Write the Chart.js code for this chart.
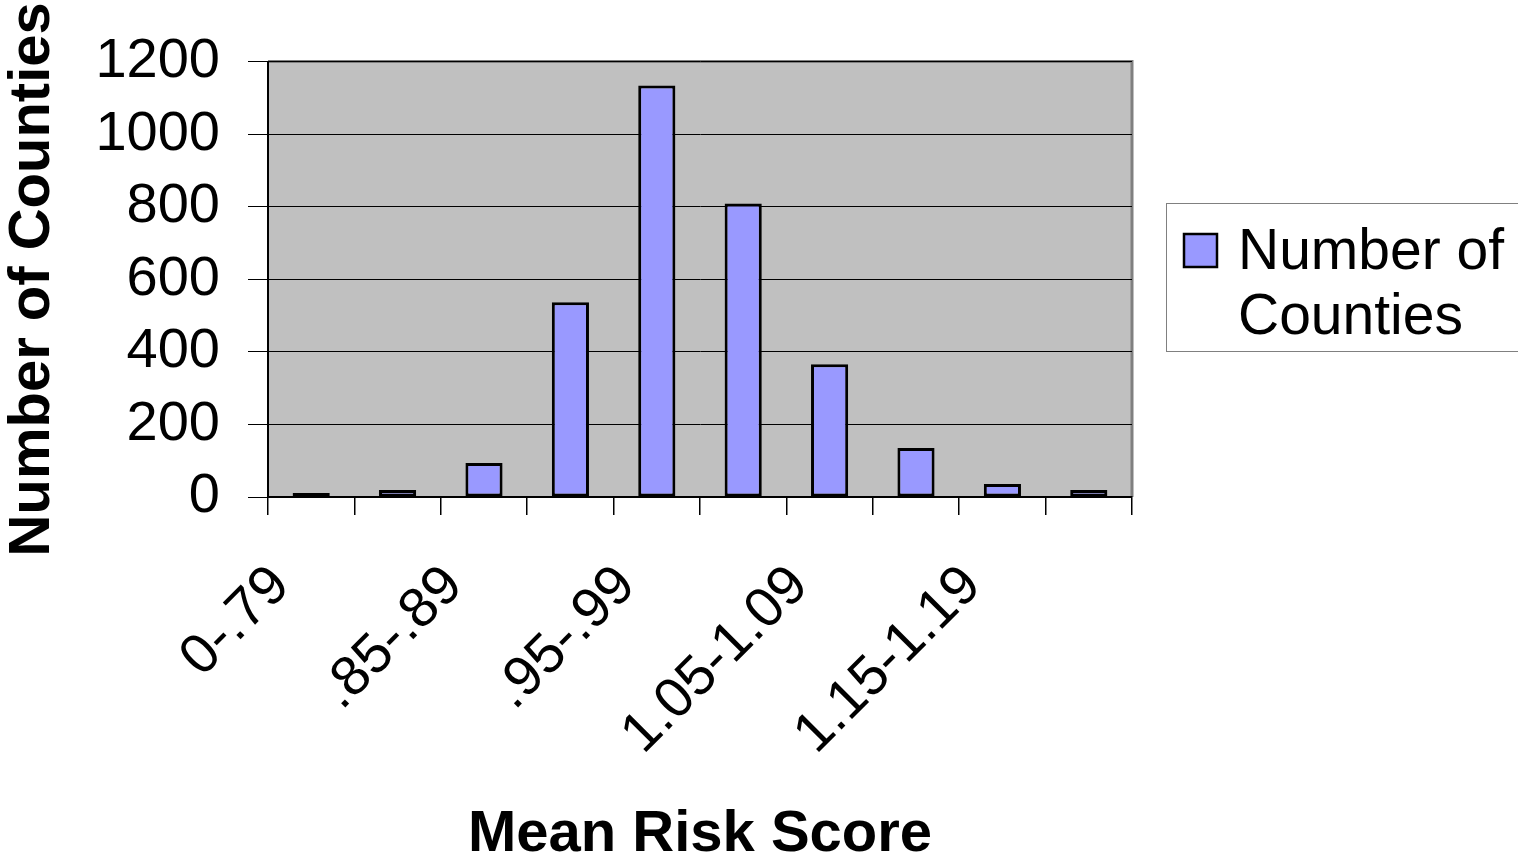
<!DOCTYPE html>
<html>
<head>
<meta charset="utf-8">
<script src="https://cdn.jsdelivr.net/npm/chart.js@4/dist/chart.umd.min.js"></script>
<style>
  body { margin: 0; background: #fff; }
  #wrap { width: 1518px; height: 861px; }
</style>
</head>
<body>
<div id="wrap"><canvas id="c" width="1518" height="861"></canvas></div>
<script>
const categories = ["0-.79", ".80-.84", ".85-.89", ".90-.94", ".95-.99",
  "1.00-1.04", "1.05-1.09", "1.10-1.14", "1.15-1.19", "1.20+"];
const counties = [11, 19, 94, 537, 1134, 809, 366, 135, 36, 19];
const yTicks = [0, 200, 400, 600, 800, 1000, 1200];
const seriesName = "Number of Counties";

const FONT = "'Liberation Sans', Arial, sans-serif";
const BAR_FILL = "#9999FF";

// grey plot area with grey top/right border, like the old Excel look
const plotBg = {
  id: "plotBg",
  beforeDraw(chart) {
    const { ctx, chartArea: a } = chart;
    ctx.save();
    ctx.fillStyle = "#C0C0C0";
    ctx.fillRect(a.left, a.top, a.right - a.left, a.bottom - a.top);
    ctx.strokeStyle = "#808080";
    ctx.lineWidth = 3;
    ctx.beginPath();
    ctx.moveTo(a.left, a.top);
    ctx.lineTo(a.right, a.top);
    ctx.lineTo(a.right, a.bottom);
    ctx.stroke();
    ctx.restore();
  }
};

// legend box on the right, two line label
const sideLegend = {
  id: "sideLegend",
  afterDraw(chart) {
    const { ctx, chartArea: a } = chart;
    const x = a.right + 34, y = 203;
    ctx.save();
    ctx.fillStyle = "#fff";
    ctx.fillRect(x, y, 400, 148);
    ctx.strokeStyle = "#808080";
    ctx.lineWidth = 1;
    ctx.strokeRect(x + 0.5, y + 0.5, 400, 148);
    ctx.fillStyle = BAR_FILL;
    ctx.fillRect(x + 18, y + 31, 33, 33);
    ctx.strokeStyle = "#000";
    ctx.lineWidth = 2.5;
    ctx.strokeRect(x + 18, y + 31, 33, 33);
    ctx.fillStyle = "#000";
    ctx.font = "57px " + FONT;
    ctx.textBaseline = "alphabetic";
    ctx.fillText("Number of", x + 72, y + 66);
    ctx.fillText("Counties", x + 72, y + 131);
    ctx.restore();
  }
};

new Chart(document.getElementById("c"), {
  type: "bar",
  data: {
    labels: categories,
    datasets: [{
      label: seriesName,
      data: counties,
      backgroundColor: BAR_FILL,
      borderColor: "#000",
      borderWidth: 3,
      borderSkipped: false,
      categoryPercentage: 1,
      barPercentage: 0.43
    }]
  },
  options: {
    responsive: false,
    animation: false,
    devicePixelRatio: 1,
    layout: { padding: { top: 61, right: 386, left: 0, bottom: 0 } },
    plugins: { legend: { display: false }, tooltip: { enabled: false } },
    scales: {
      x: {
        offset: true,
        grid: {
          offset: true,
          drawOnChartArea: false,
          drawTicks: true,
          tickLength: 18,
          color: "#000",
          lineWidth: 1.5
        },
        border: { color: "#000", width: 2 },
        ticks: {
          autoSkip: false,
          maxRotation: 45,
          minRotation: 45,
          padding: 38,
          labelOffset: -30,
          color: "#000",
          font: { family: FONT, size: 56 },
          callback: (v, i) => (i % 2 === 0 ? categories[i] : "")
        },
        title: {
          display: true,
          text: "Mean Risk Score",
          color: "#000",
          font: { family: FONT, size: 58, weight: "bold" },
          padding: { top: -9, bottom: -9 }
        },
        afterFit: s => { s.height = 364; }
      },
      y: {
        min: 0,
        max: 1200,
        afterBuildTicks: s => { s.ticks = yTicks.map(v => ({ value: v })); },
        grid: {
          color: "#000",
          lineWidth: 1,
          tickLength: 20,
          drawTicks: true
        },
        border: { color: "#000", width: 2 },
        ticks: {
          padding: 28,
          color: "#000",
          font: { family: FONT, size: 56 },
          callback: v => String(v)
        },
        title: {
          display: true,
          text: "Number of Counties",
          color: "#000",
          font: { family: FONT, size: 58, weight: "bold" },
          padding: { top: -2, bottom: -2 }
        },
        afterFit: s => { s.width = 268; }
      }
    }
  },
  plugins: [plotBg, sideLegend]
});
</script>
</body>
</html>
